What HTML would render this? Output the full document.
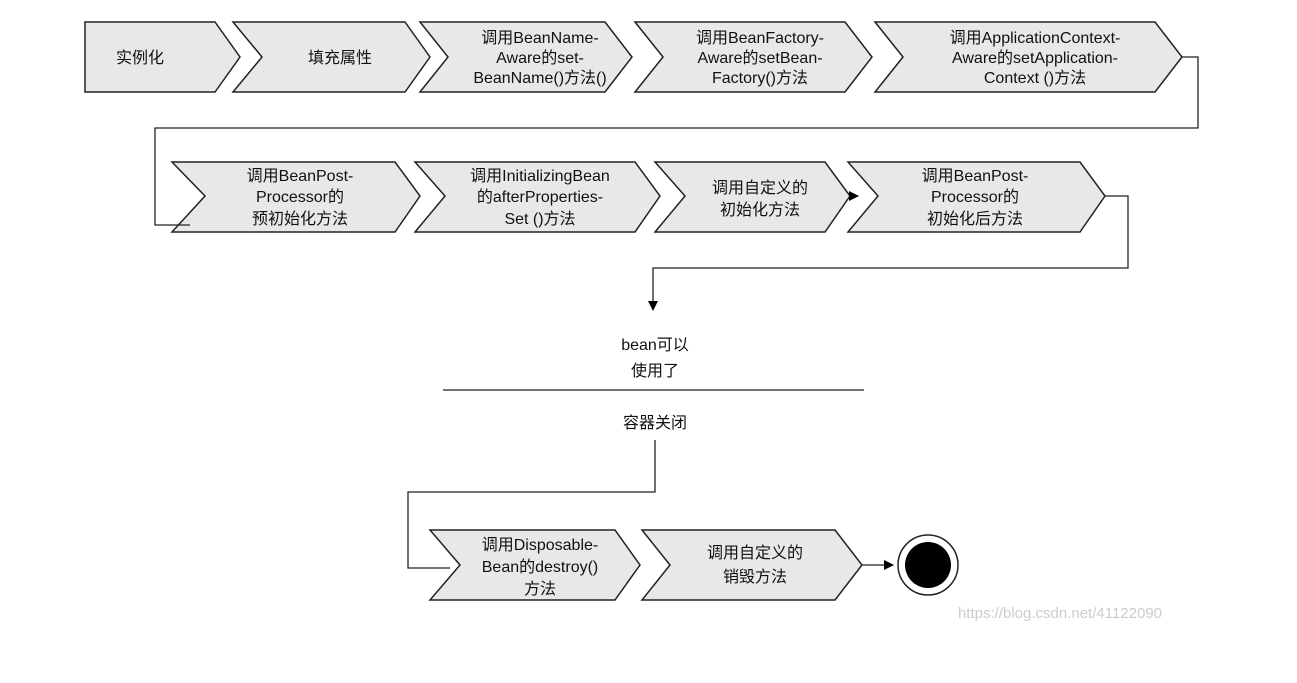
<!DOCTYPE html>
<html><head><meta charset="utf-8"><style>
body{margin:0;background:#fff;}
svg text{font-family:"Liberation Sans","Noto Sans CJK SC",sans-serif;font-size:16px;fill:#111;text-anchor:middle;}
</style></head><body>
<svg width="1297" height="678" viewBox="0 0 1297 678" xmlns="http://www.w3.org/2000/svg">
<defs><marker id="a" markerWidth="10" markerHeight="10" refX="9" refY="5" orient="auto" markerUnits="userSpaceOnUse"><path d="M0,0 L10,5 L0,10 z" fill="#000"/></marker></defs>
<g fill="#e8e8e8" stroke="#222" stroke-width="1.5">
<path d="M85,22 L215,22 L240,57 L215,92 L85,92 z"/>
<path d="M233,22 L405,22 L430,57 L405,92 L233,92 L262,57 z"/>
<path d="M420,22 L605,22 L632,57 L605,92 L420,92 L448,57 z"/>
<path d="M635,22 L845,22 L872,57 L845,92 L635,92 L663,57 z"/>
<path d="M875,22 L1155,22 L1182,57 L1155,92 L875,92 L903,57 z"/>
<path d="M172,162 L395,162 L420,196 L395,232 L172,232 L205,196 z"/>
<path d="M415,162 L635,162 L660,196 L635,232 L415,232 L445,196 z"/>
<path d="M655,162 L825,162 L850,196 L825,232 L655,232 L685,196 z"/>
<path d="M848,162 L1080,162 L1105,196 L1080,232 L848,232 L878,196 z"/>
<path d="M430,530 L615,530 L640,565 L615,600 L430,600 L460,565 z"/>
<path d="M642,530 L835,530 L862,565 L835,600 L642,600 L670,565 z"/>
</g>
<g fill="none" stroke="#222" stroke-width="1.3">
<path d="M1182,57 L1198,57 L1198,128 L155,128 L155,225 L190,225"/>
<path d="M1105,196 L1128,196 L1128,268 L653,268 L653,310" marker-end="url(#a)"/>
<path d="M849,196 L858,196" marker-end="url(#a)"/>
<path d="M443,390 L864,390"/>
<path d="M655,440 L655,492 L408,492 L408,568 L450,568"/>
<path d="M862,565 L893,565" marker-end="url(#a)"/>
</g>
<circle cx="928" cy="565" r="30" fill="#fff" stroke="#222" stroke-width="1.5"/>
<circle cx="928" cy="565" r="23" fill="#000"/>
<text x="140" y="63">实例化</text>
<text x="340" y="63">填充属性</text>
<text x="540" y="43">调用BeanName-</text><text x="540" y="63">Aware的set-</text><text x="540" y="83">BeanName()方法()</text>
<text x="760" y="43">调用BeanFactory-</text><text x="760" y="63">Aware的setBean-</text><text x="760" y="83">Factory()方法</text>
<text x="1035" y="43">调用ApplicationContext-</text><text x="1035" y="63">Aware的setApplication-</text><text x="1035" y="83">Context ()方法</text>
<text x="300" y="181">调用BeanPost-</text><text x="300" y="202">Processor的</text><text x="300" y="224">预初始化方法</text>
<text x="540" y="181">调用InitializingBean</text><text x="540" y="202">的afterProperties-</text><text x="540" y="224">Set ()方法</text>
<text x="760" y="193">调用自定义的</text><text x="760" y="215">初始化方法</text>
<text x="975" y="181">调用BeanPost-</text><text x="975" y="202">Processor的</text><text x="975" y="224">初始化后方法</text>
<text x="655" y="350">bean可以</text><text x="655" y="376">使用了</text>
<text x="655" y="428">容器关闭</text>
<text x="540" y="550">调用Disposable-</text><text x="540" y="572">Bean的destroy()</text><text x="540" y="594">方法</text>
<text x="755" y="558">调用自定义的</text><text x="755" y="582">销毁方法</text>
<text x="1060" y="618" style="fill:#ccc;font-size:15px">https://blog.csdn.net/41122090</text>
</svg>
</body></html>
